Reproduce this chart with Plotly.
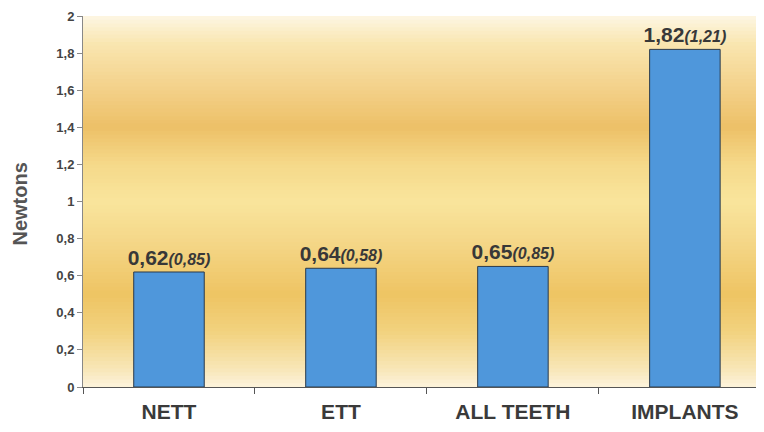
import plotly.graph_objects as go

categories = ["NETT", "ETT", "ALL TEETH", "IMPLANTS"]
means = [0.62, 0.64, 0.65, 1.82]
sds = [0.85, 0.58, 0.85, 1.21]
y_ticks = [0, 0.2, 0.4, 0.6, 0.8, 1.0, 1.2, 1.4, 1.6, 1.8, 2.0]

def fmt(v):
    return f"{v:.2f}".replace(".", ",")

labels = [
    f"<b>{fmt(m)}</b><span style='font-size:16px'><b><i>({fmt(s)})</i></b></span>"
    for m, s in zip(means, sds)
]

# background gradient stops (y value, colour)
stops = [
    (0.00, (252, 243, 220)),
    (0.10, (248, 230, 182)),
    (0.30, (242, 210, 126)),
    (0.50, (238, 196, 99)),
    (0.80, (245, 216, 138)),
    (1.00, (249, 229, 156)),
    (1.20, (245, 217, 138)),
    (1.40, (237, 192, 103)),
    (1.60, (243, 208, 136)),
    (1.85, (249, 230, 176)),
    (2.00, (253, 246, 227)),
]

def col_at(y):
    for (y0, c0), (y1, c1) in zip(stops[:-1], stops[1:]):
        if y0 <= y <= y1:
            t = (y - y0) / (y1 - y0)
            return "rgb(%d,%d,%d)" % tuple(round(a + (b - a) * t) for a, b in zip(c0, c1))
    return "rgb(%d,%d,%d)" % stops[-1][1]

shapes = []
n = 100
for i in range(n):
    y0 = 2.0 * i / n
    y1 = 2.0 * (i + 1) / n
    shapes.append(dict(type="rect", xref="paper", yref="y", x0=0, x1=1, y0=y0, y1=y1 + 0.005,
                       fillcolor=col_at((y0 + y1) / 2), line=dict(width=0), layer="below"))

fig = go.Figure(go.Bar(
    x=categories, y=means,
    marker=dict(color="#4F97DB", line=dict(color="#2b3a4a", width=1)),
    text=labels, textposition="outside", cliponaxis=False, constraintext="none",
    textfont=dict(family="Liberation Sans, Arial", size=21, color="#383838"),
    width=0.41,
))

fig.add_annotation(
    text="<b>Newtons</b>", xref="paper", yref="paper", x=0, y=0.5,
    xanchor="center", yanchor="middle", xshift=-64, yshift=-3, textangle=-90,
    showarrow=False, font=dict(family="Liberation Sans, Arial", size=20, color="#555"),
)

fig.update_layout(
    width=756, height=424,
    margin=dict(l=75, r=0, t=8, b=45, autoexpand=False),
    paper_bgcolor="white", plot_bgcolor="#F8E4A8",
    separators=",.",
    shapes=shapes,
    showlegend=False,
    font=dict(family="Liberation Sans, Arial", color="#444"),
)
fig.update_yaxes(
    range=[0, 2], tickvals=y_ticks, showgrid=False, zeroline=False, automargin=False,
    showline=True, linecolor="#888", linewidth=1,
    ticks="outside", ticklen=5, tickcolor="#888",
    tickfont=dict(size=13, color="#444", weight=700),
    ticklabeloverflow="allow",
)
fig.update_xaxes(
    range=[-0.5, 3.46], showgrid=False, zeroline=False, automargin=False,
    showline=True, linecolor="#555", linewidth=1,
    ticks="outside", ticklen=6, tickcolor="#555", tickson="boundaries",
    tickfont=dict(size=21, color="#3a3a3a", weight=700),
    ticklabelstandoff=6,
)

fig.write_html("out.html")
